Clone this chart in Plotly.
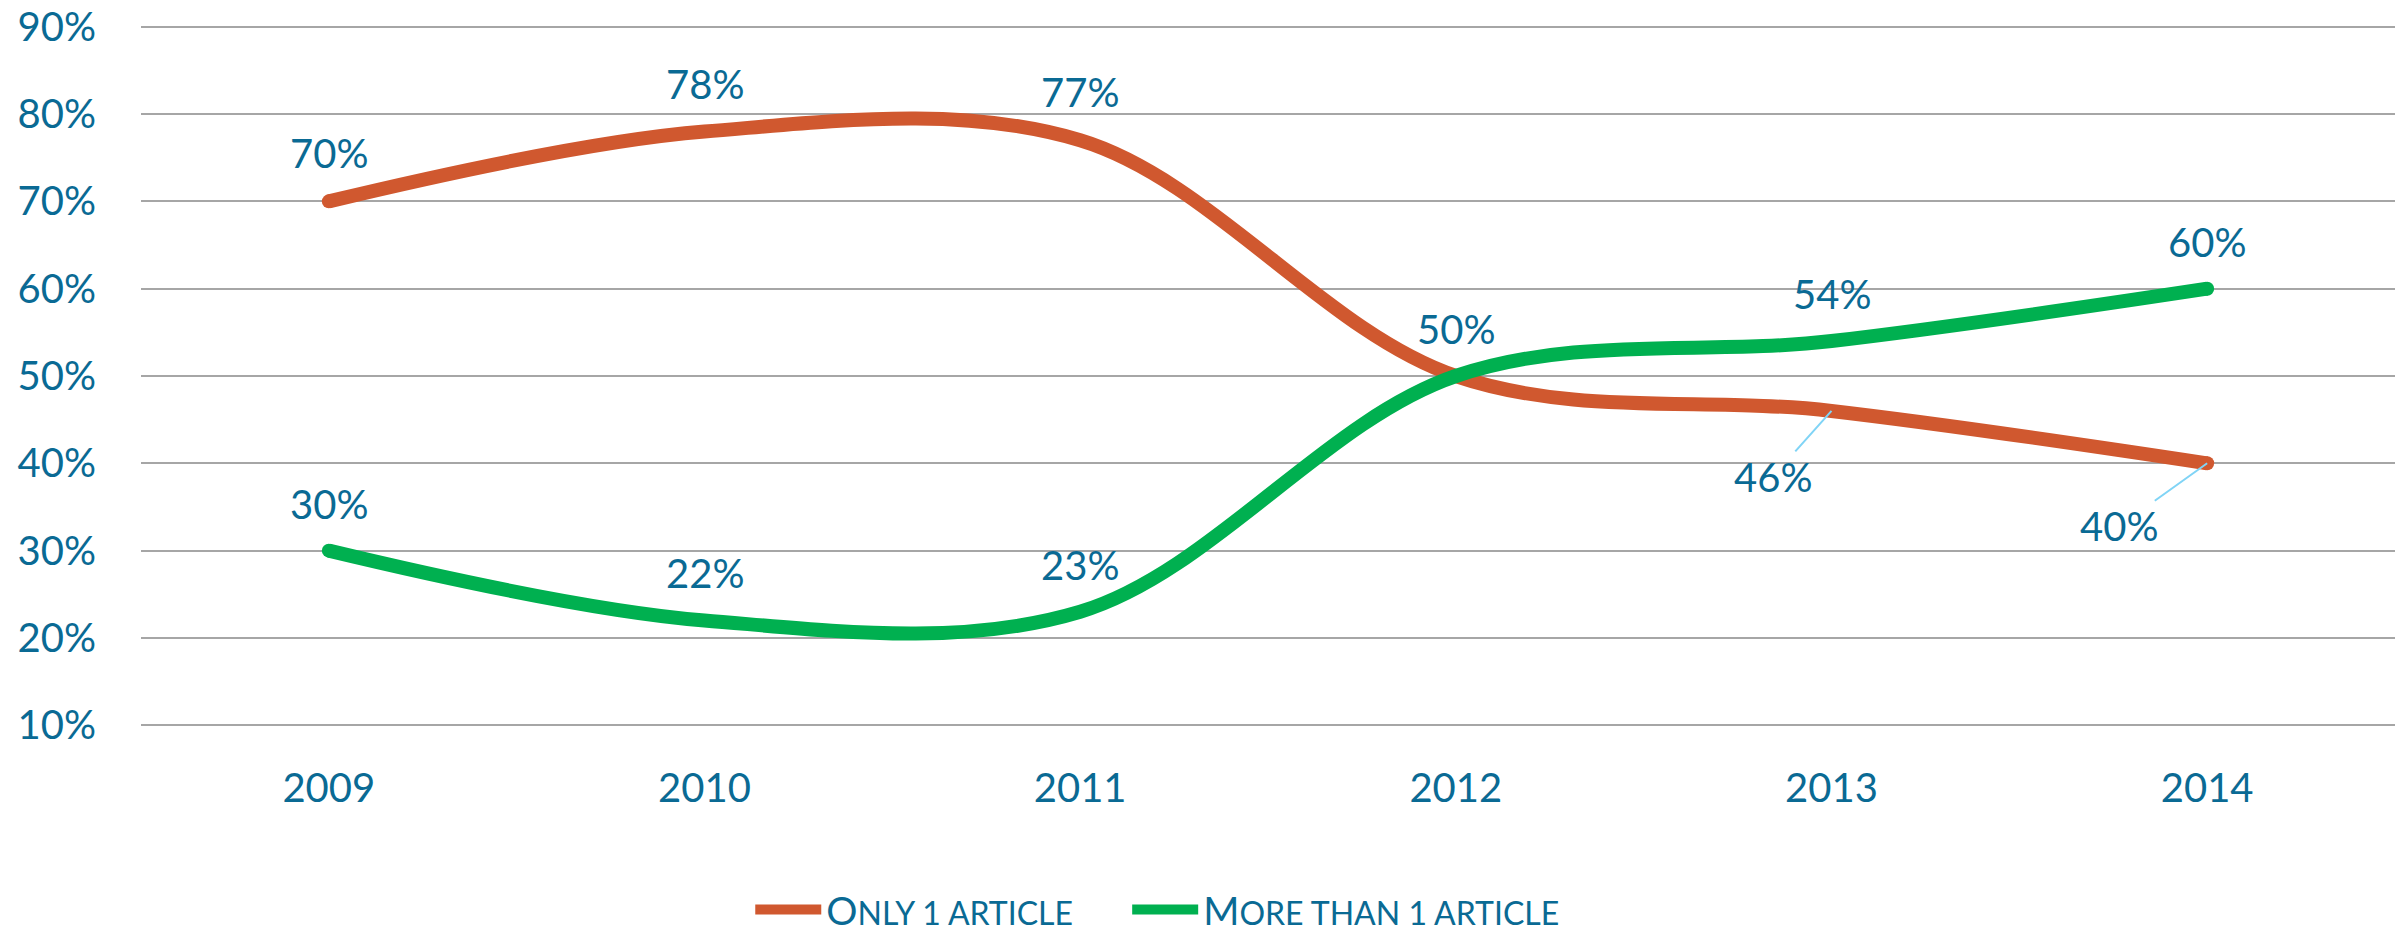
import plotly.graph_objects as go

years = ['2009', '2010', '2011', '2012', '2013', '2014']
only_one = [70, 78, 77, 50, 46, 40]
more_than_one = [30, 22, 23, 50, 54, 60]
y_ticks = [10, 20, 30, 40, 50, 60, 70, 80, 90]
series_names = ['O<span style="font-size:32px">NLY 1 ARTICLE' + '\u00a0' * 6 + '</span>',
                'M<span style="font-size:32px">ORE THAN 1 ARTICLE</span>']

ORANGE = '#D0582F'
GREEN = '#00B050'
TEXT = '#0A6A94'
GRID = '#A6A6A6'
LEADER = '#80D4F6'
FONT = 'Lato'
LW = 14

fig = go.Figure()
for vals, name, col in [(only_one, series_names[0], ORANGE), (more_than_one, series_names[1], GREEN)]:
    fig.add_trace(go.Scatter(
        x=years, y=vals, name=name, mode='lines',
        line=dict(color=col, width=LW, shape='spline', smoothing=1),
        hoverinfo='skip'))
    # round end caps
    fig.add_trace(go.Scatter(
        x=[years[0], years[-1]], y=[vals[0], vals[-1]], mode='markers',
        marker=dict(size=LW, color=col), showlegend=False, hoverinfo='skip'))

label_font = dict(family=FONT, size=40, color=TEXT)
annotations = []
# labels above points (category index used for x)
for i, v in enumerate(more_than_one):
    annotations.append(dict(x=i, y=v, text=f'{v}%', showarrow=False,
                            yshift=47, font=label_font))
for i, v in enumerate(only_one):
    if i <= 2:
        annotations.append(dict(x=i, y=v, text=f'{v}%', showarrow=False,
                                yshift=48, font=label_font))
# labels below with leader lines
annotations.append(dict(x=4, y=only_one[4], text=f'{only_one[4]}%', showarrow=True,
                        arrowhead=0, arrowwidth=2, arrowcolor=LEADER, ax=-59, ay=66,
                        font=label_font))
annotations.append(dict(x=5, y=only_one[5], text=f'{only_one[5]}%', showarrow=True,
                        arrowhead=0, arrowwidth=2, arrowcolor=LEADER, ax=-88, ay=63,
                        font=label_font))

fig.update_layout(
    width=2397, height=932, autosize=False,
    margin=dict(l=141, r=2, t=25, b=205, pad=0, autoexpand=False),
    paper_bgcolor='white', plot_bgcolor='white',
    font=dict(family=FONT, size=40, color=TEXT),
    showlegend=True,
    legend=dict(orientation='h', xref='container', yref='container',
                x=0.3130, xanchor='left', y=0.024, yanchor='middle',
                font=dict(family=FONT, size=39, color=TEXT), itemwidth=66,
                bgcolor='rgba(0,0,0,0)'),
    annotations=annotations,
)
fig.update_xaxes(type='category', range=[-0.5, 5.5], showgrid=False, showline=False,
                 zeroline=False, ticks='', ticklabelstandoff=34,
                 tickfont=dict(family=FONT, size=40, color=TEXT))
fig.update_yaxes(range=[9.8, 90.2], tickvals=y_ticks, ticktext=[f'{t}%' for t in y_ticks],
                 showgrid=True, gridcolor=GRID, gridwidth=2, zeroline=False, showline=False,
                 ticks='', ticklabelstandoff=44,
                 tickfont=dict(family=FONT, size=40, color=TEXT))

fig.write_html('out.html', config={'displayModeBar': False},
               post_script="document.body.style.margin='0';")
